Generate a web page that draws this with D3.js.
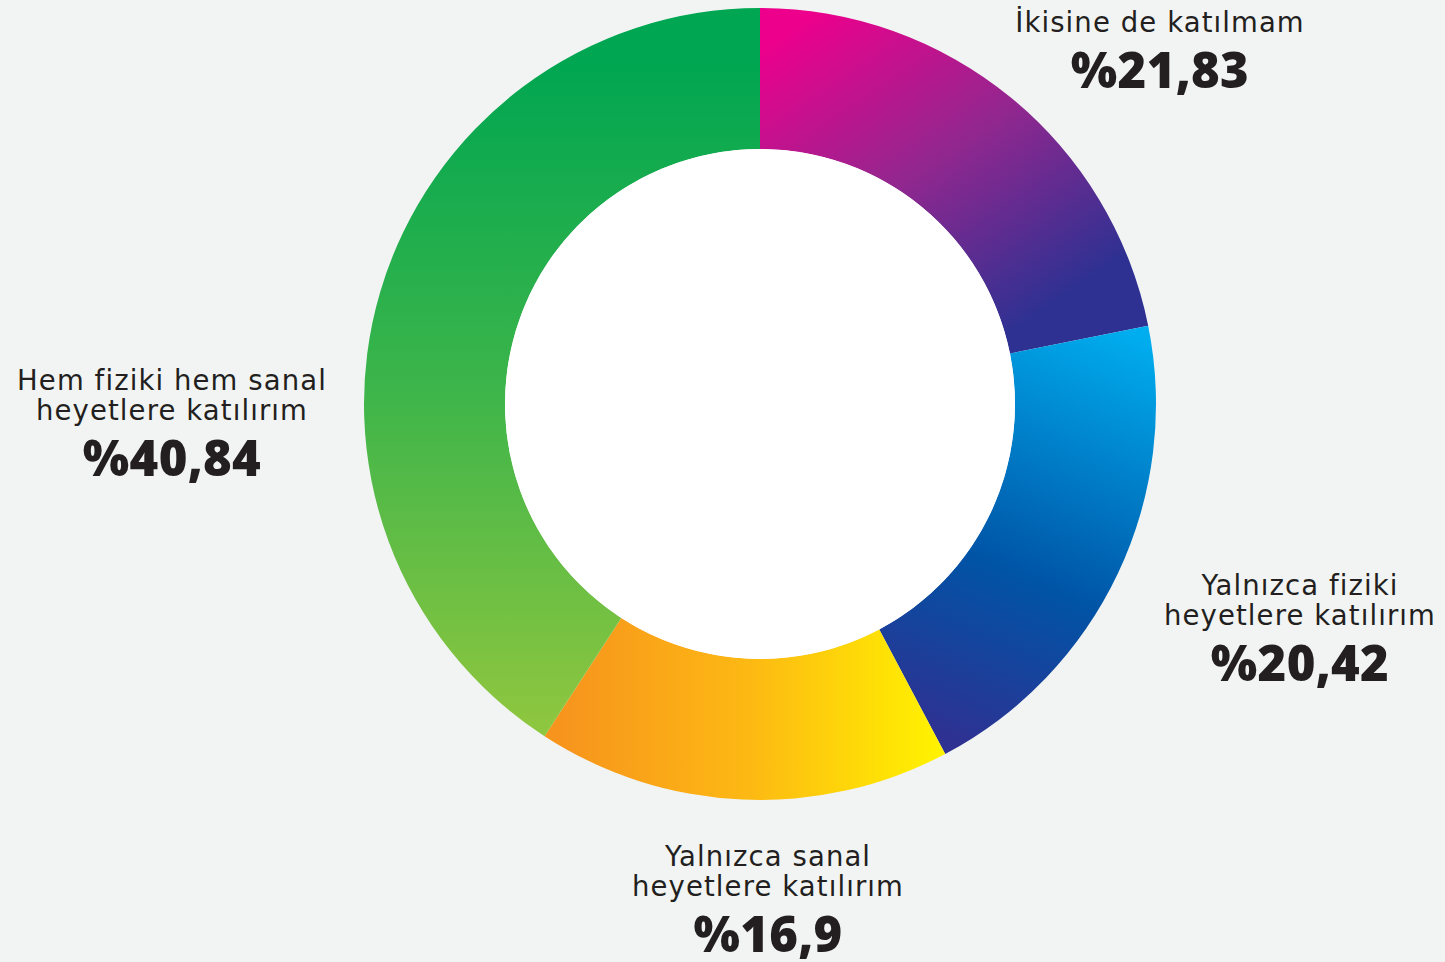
<!DOCTYPE html>
<html lang="tr">
<head>
<meta charset="utf-8">
<title>Heyetlere katılım</title>
<style>
  body {
    margin: 0;
    padding: 0;
    background: #f2f4f3;
    overflow: hidden;
  }
  svg { display: block; }
  .lbl {
    font-family: 'DejaVu Sans', 'Open Sans', sans-serif;
    font-size: 27.5px;
    letter-spacing: 1.1px;
    fill: #231f20;
  }
  .pct {
    font-family: 'Open Sans', 'Noto Sans', sans-serif;
    font-size: 49px;
    font-weight: 800;
    letter-spacing: 0.3px;
    fill: #231f20;
  }
</style>
</head>
<body>
<svg id="chart" width="1445" height="962"></svg>
<script src="https://cdnjs.cloudflare.com/ajax/libs/d3/7.8.5/d3.min.js"></script>
<script>
// data
var categories = [
  ['İkisine de katılmam'],
  ['Yalnızca fiziki', 'heyetlere katılırım'],
  ['Yalnızca sanal', 'heyetlere katılırım'],
  ['Hem fiziki hem sanal', 'heyetlere katılırım']
];
var values = [21.83, 20.42, 16.9, 40.84];
var valueLabels = ['%21,83', '%20,42', '%16,9', '%40,84'];

// gradient stops per slice
var gradStops = [
  [['0', '#ec008c'], ['0.5', '#92278f'], ['1', '#2e3192']],
  [['0', '#00aeef'], ['0.6', '#0054a6'], ['1', '#2e3192']],
  [['0', '#f7941d'], ['0.5', '#fdb913'], ['1', '#fff200']],
  [['0', '#00a651'], ['0.5', '#3db54a'], ['1', '#8dc63f']]
];
// gradient direction (page coordinates)
var gradVec = [
  [790, 30, 1000, 340],
  [1130, 330, 950, 740],
  [560, 0, 940, 0],
  [0, 60, 0, 720]
];
// label centres (first line baseline)
var labelPos = [
  [1160, 32],
  [1300, 595],
  [768, 866],
  [172, 390]
];

var cx = 760, cy = 404, rOuter = 396, rInner = 255;
var lineGap = 30, pctGap = 56;

var svg = d3.select('#chart');
var defs = svg.append('defs');

gradVec.forEach(function (g, i) {
  var lg = defs.append('linearGradient')
    .attr('id', 'g' + i)
    .attr('gradientUnits', 'userSpaceOnUse')
    .attr('x1', g[0]).attr('y1', g[1])
    .attr('x2', g[2]).attr('y2', g[3])
    // slices are drawn inside a translated group
    .attr('gradientTransform', 'translate(' + (-cx) + ',' + (-cy) + ')');
  gradStops[i].forEach(function (s) {
    lg.append('stop').attr('offset', s[0]).attr('stop-color', s[1]);
  });
});

var pie = d3.pie().sort(null).value(function (d) { return d; });
var arc = d3.arc().innerRadius(rInner).outerRadius(rOuter);

svg.append('g')
  .attr('transform', 'translate(' + cx + ',' + cy + ')')
  .selectAll('path')
  .data(pie(values))
  .enter().append('path')
  .attr('d', arc)
  .attr('fill', function (d, i) { return 'url(#g' + i + ')'; });

svg.append('circle')
  .attr('cx', cx).attr('cy', cy).attr('r', rInner)
  .attr('fill', '#ffffff');

var labels = svg.append('g');
categories.forEach(function (lines, i) {
  var t = labels.append('text')
    .attr('class', 'lbl')
    .attr('text-anchor', 'middle')
    .attr('x', labelPos[i][0])
    .attr('y', labelPos[i][1]);
  lines.forEach(function (ln, j) {
    t.append('tspan')
      .attr('x', labelPos[i][0])
      .attr('dy', j === 0 ? 0 : lineGap)
      .text(ln);
  });
  labels.append('text')
    .attr('class', 'pct')
    .attr('text-anchor', 'middle')
    .attr('x', labelPos[i][0])
    .attr('y', labelPos[i][1] + (lines.length - 1) * lineGap + pctGap)
    .text(valueLabels[i]);
});
</script>
</body>
</html>
